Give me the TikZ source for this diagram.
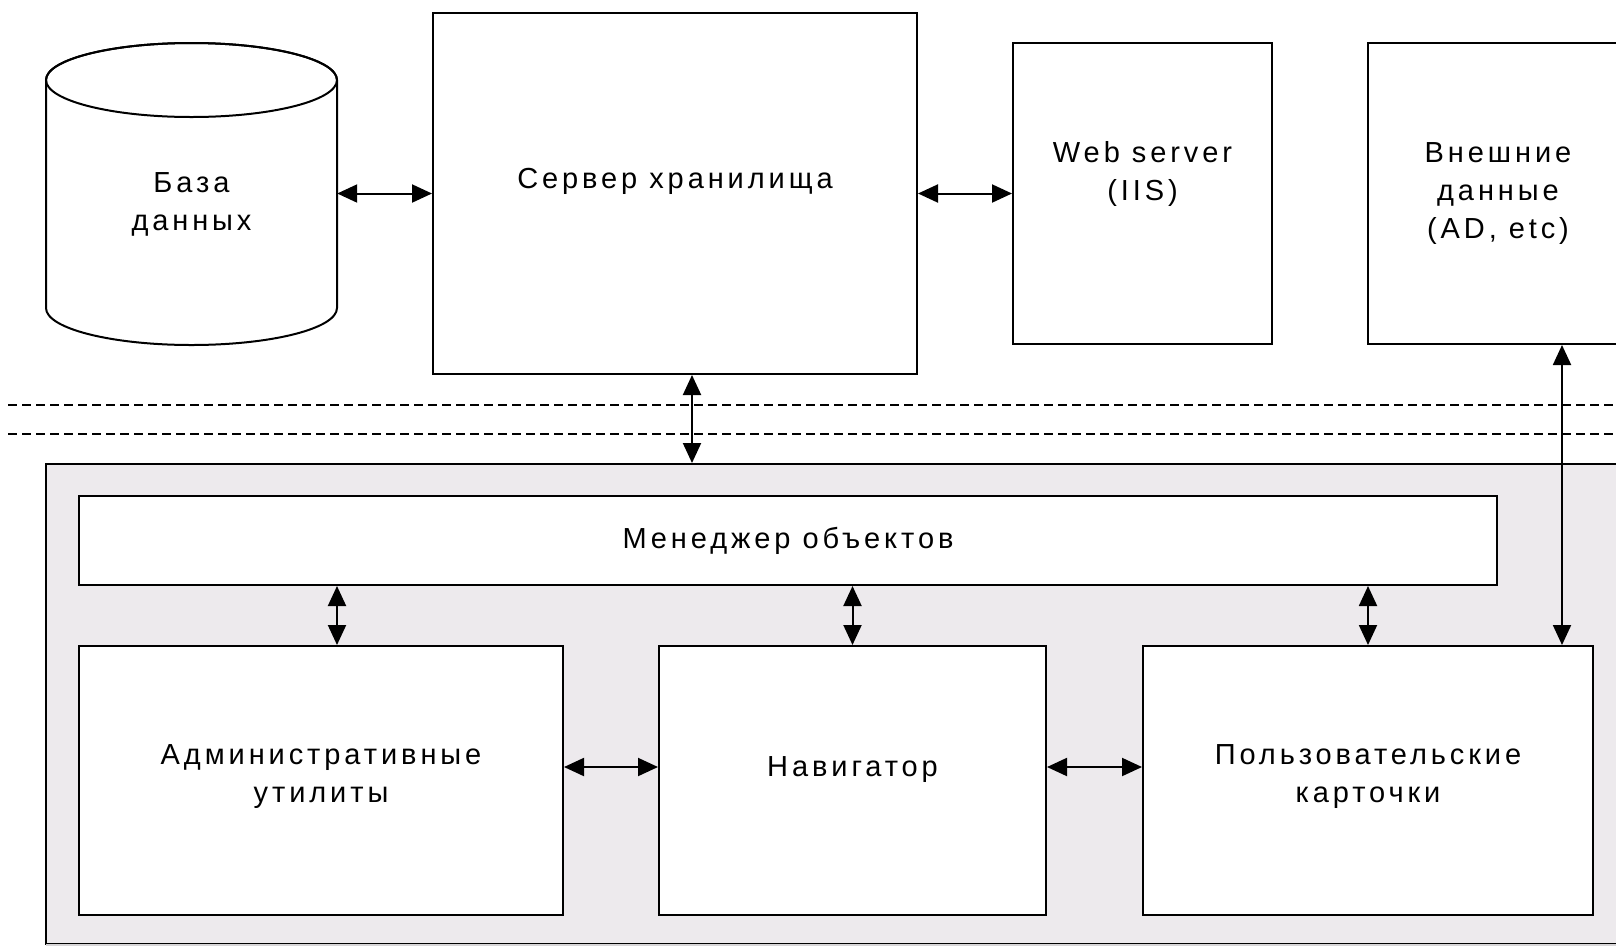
\documentclass[tikz,border=0pt]{standalone}
\usepackage{fontspec}
\setmainfont{Liberation Sans}[LetterSpace=13.5]
\usetikzlibrary{arrows.meta}
\definecolor{panel}{RGB}{237,234,237}
\begin{document}
\begin{tikzpicture}[x=1pt,y=1pt,
  lab/.style={font=\fontsize{29}{38}\selectfont, align=center, inner sep=0pt},
  box/.style={draw, line width=2pt, fill=white, rectangle, inner sep=0pt},
  arr/.style={line width=2pt, {Triangle[length=20pt,width=18pt]}-{Triangle[length=20pt,width=18pt]}},
  sep/.style={line width=2pt, dash pattern=on 9pt off 5pt}]
\fill[white] (0,0) rectangle (1616,-946);
\useasboundingbox (0,0) rectangle (1616,-946);
\clip (0,0) rectangle (1616,-946);

% client panel
\node[draw, line width=2pt, fill=panel, inner sep=0pt, minimum width=1594, minimum height=480] (client) at (843,-704) {};
\draw[line width=2pt, panel!80!gray] ([xshift=1pt]client.south west) -- (client.south east);

% separator lines
\draw[sep] (8,-405) -- (1616,-405);
\draw[sep] (8,-434) -- (1616,-434);

% database cylinder
\draw[line width=2pt, fill=white] (46,-80) -- (46,-308)
  arc[start angle=180, end angle=360, x radius=145.5, y radius=37] -- (337,-80)
  arc[start angle=0, end angle=180, x radius=145.5, y radius=37] -- cycle;
\draw[line width=2pt] (191.5,-80) ellipse[x radius=145.5, y radius=37];
\node[inner sep=0pt, minimum width=291, minimum height=302,
  label={[lab, yshift=-10pt]center:База\\данных}] (db) at (191.5,-194) {};

% top boxes
\node[box, minimum width=484, minimum height=361,
  label={[lab, yshift=12pt]center:Сервер хранилища}] (srv) at (675,-193.5) {};
\node[box, minimum width=259, minimum height=301,
  label={[lab, yshift=19.5pt]center:Web server\\(IIS)}] (web) at (1142.5,-193.5) {};
\node[box, minimum width=260, minimum height=301,
  label={[lab]center:Внешние\\данные\\(AD, etc)}] (ext) at (1498,-193.5) {};

% client boxes
\node[box, minimum width=1418, minimum height=89,
  label={[lab]center:Менеджер объектов}] (mgr) at (788,-540.5) {};
\node[box, minimum width=484, minimum height=269,
  label={[lab, yshift=3.5pt]center:Административные\\утилиты}] (adm) at (321,-780.5) {};
\node[box, minimum width=387, minimum height=269,
  label={[lab, yshift=11pt]center:Навигатор}] (nav) at (852.5,-780.5) {};
\node[box, minimum width=450, minimum height=269,
  label={[lab, yshift=3.5pt]center:Пользовательские\\карточки}] (usr) at (1368,-780.5) {};

% connectors
\draw[arr] (db.east |- srv.west) -- (srv.west);
\draw[arr] (srv.east) -- (web.west);
\draw[arr] ([xshift=17pt]srv.south) -- ([xshift=17pt]srv.south |- client.north);
\draw[arr] ([xshift=64pt]ext.south) -- ([xshift=64pt]ext.south |- usr.north);
\draw[arr] ([xshift=16pt]mgr.south -| adm.north) -- ([xshift=16pt]adm.north);
\draw[arr] (mgr.south -| nav.north) -- (nav.north);
\draw[arr] (mgr.south -| usr.north) -- (usr.north);
\draw[arr] ([yshift=13.5pt]adm.east) -- ([yshift=13.5pt]nav.west);
\draw[arr] ([yshift=13.5pt]nav.east) -- ([yshift=13.5pt]usr.west);
\end{tikzpicture}
\end{document}
